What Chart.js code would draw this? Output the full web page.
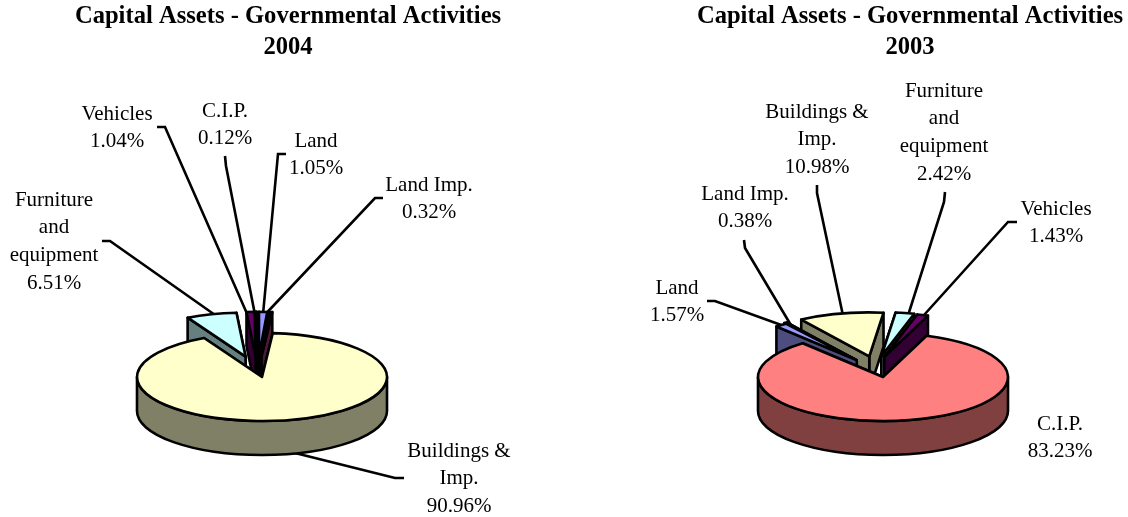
<!DOCTYPE html>
<html>
<head>
<meta charset="utf-8">
<title>Capital Assets - Governmental Activities</title>
<script src="https://cdn.jsdelivr.net/npm/chart.js@4"></script>
<style>
    html, body { margin: 0; padding: 0; background: #fff; overflow: hidden; }
    .pie { position: absolute; top: 0; width: 564px; height: 517px; }
</style>
</head>
<body>
<div class="pie" style="left: 0"><canvas id="pie2004"></canvas></div>
<div class="pie" style="left: 564px"><canvas id="pie2003"></canvas></div>
<script>
const categories = ['Land', 'Land Imp.', 'Buildings & Imp.', 'Furniture and equipment', 'Vehicles', 'C.I.P.'];
const values2004 = [1.05, 0.32, 90.96, 6.51, 1.04, 0.12];
const values2003 = [1.57, 0.38, 10.98, 2.42, 1.43, 83.23];
const labelLines = [['Land'], ['Land Imp.'], ['Buildings &', 'Imp.'], ['Furniture', 'and', 'equipment'], ['Vehicles'], ['C.I.P.']];
const topColors = ['#9999ff', '#993366', '#ffffcc', '#ccffff', '#660066', '#ff8080'];
const wallColors = ['#4d4d80', '#4d1a33', '#808066', '#668080', '#330033', '#804040'];

const SQUASH = 0.352;   // ellipse height / width
const DEPTH = 34;       // pie thickness
const LINE_H = 27.7;

// layout for each pie: label spots are [center x, first line y], leaders are polylines
const layout2004 = {
    rotation: 0,
    explode: [60, 60, 0, 60, 60, 60],
    nudgeX: [-5, -5, 0, 0, -4, -5],
    padLeft: 0, padRight: 40, titleShift: 26,
    spots: [[316, 141], [429, 185], [459, 451], [54, 200], [117, 114], [225, 111]],
    leaders: [
        [[286, 154], [278, 154], [262, 325]],
        [[383, 198], [375, 198], [258, 322]],
        [[404, 478], [395, 478], [287, 451]],
        [[102, 241], [110, 241], [225, 322]],
        [[157, 127], [165, 127], [252, 325]],
        [[225, 156], [226, 166], [257, 325]]
    ]
};
const layout2003 = {
    rotation: 320,
    explode: [60, 60, 60, 60, 60, 0],
    nudgeX: [10, 5, 0, -13, -17, 0],
    padLeft: 74, padRight: 0, titleShift: 27,
    spots: [[677, 288], [745, 194], [817, 112], [944, 91], [1056, 209], [1060, 424]],
    leaders: [
        [[707, 301], [715, 301], [795, 330]],
        [[744, 240], [745, 248], [795, 332]],
        [[817, 185], [817, 193], [845, 325]],
        [[945, 192], [944, 202], [905, 325]],
        [[1017, 222], [1008, 222], [915, 325]],
        null
    ]
};

// one exploded wedge: walls first, then the top face
function drawWedge(ctx, arc, i, look) {
    const r = arc.outerRadius;
    const a0 = arc.startAngle, a1 = arc.endAngle;
    const mid = (a0 + a1) / 2;
    const d = look.explode[i];
    const cx = arc.x + d * Math.cos(mid) + look.nudgeX[i];
    const cy = arc.y + d * Math.sin(mid) * SQUASH;
    const ry = r * SQUASH;

    ctx.strokeStyle = '#000';
    ctx.lineWidth = 2.6;
    ctx.lineJoin = 'round';
    ctx.fillStyle = wallColors[i];

    // cut faces, the one further back goes first
    const faces = [a0, a1].sort((p, q) => Math.sin(p) - Math.sin(q));
    faces.forEach(a => {
        const ex = cx + r * Math.cos(a), ey = cy + ry * Math.sin(a);
        ctx.beginPath();
        ctx.moveTo(cx, cy);
        ctx.lineTo(ex, ey);
        ctx.lineTo(ex, ey + DEPTH);
        ctx.lineTo(cx, cy + DEPTH);
        ctx.closePath();
        ctx.fill();
        ctx.stroke();
    });

    // outer wall, only the part facing the viewer (0..PI, also one turn on)
    [0, 2 * Math.PI].forEach(turn => {
        const from = Math.max(a0, turn), to = Math.min(a1, turn + Math.PI);
        if (from >= to) return;
        ctx.beginPath();
        ctx.ellipse(cx, cy, r, ry, 0, from, to);
        ctx.ellipse(cx, cy + DEPTH, r, ry, 0, to, from, true);
        ctx.closePath();
        ctx.fill();
        ctx.stroke();
    });

    ctx.fillStyle = topColors[i];
    ctx.beginPath();
    ctx.moveTo(cx, cy);
    ctx.ellipse(cx, cy, r, ry, 0, a0, a1);
    ctx.closePath();
    ctx.fill();
    ctx.stroke();
}

const pie3d = {
    id: 'pie3d',
    afterLayout(chart) {
        const look = chart.options.plugins.pie3d.look;
        chart.titleBlock.left += look.titleShift;
        chart.titleBlock.right += look.titleShift;
    },
    beforeDatasetDraw(chart, args) {
        const look = chart.options.plugins.pie3d.look;
        const ctx = chart.ctx;
        const arcs = args.meta.data;

        ctx.save();
        ctx.strokeStyle = '#000';
        ctx.lineWidth = 2.6;
        ctx.translate(-chart.canvas.parentNode.offsetLeft, 0);
        look.leaders.forEach(line => {
            if (!line) return;
            ctx.beginPath();
            line.forEach((p, n) => n ? ctx.lineTo(p[0], p[1]) : ctx.moveTo(p[0], p[1]));
            ctx.stroke();
        });
        ctx.restore();

        // far wedges first, whole-pie slice ends up on top
        const order = arcs.map((a, i) => i).sort((p, q) =>
            Math.sin((arcs[p].startAngle + arcs[p].endAngle) / 2) -
            Math.sin((arcs[q].startAngle + arcs[q].endAngle) / 2));
        ctx.save();
        order.forEach(i => drawWedge(ctx, arcs[i], i, look));
        ctx.restore();
        return false;
    },
    afterDatasetsDraw(chart) {
        const look = chart.options.plugins.pie3d.look;
        const ctx = chart.ctx;
        const values = chart.data.datasets[0].data;
        const left = chart.canvas.parentNode.offsetLeft;
        ctx.save();
        ctx.fillStyle = '#000';
        ctx.font = '21px "Liberation Serif"';
        ctx.textAlign = 'center';
        ctx.textBaseline = 'middle';
        values.forEach((v, i) => {
            const lines = labelLines[i].concat(v.toFixed(2) + '%');
            lines.forEach((t, n) => ctx.fillText(t, look.spots[i][0] - left, look.spots[i][1] + n * LINE_H));
        });
        ctx.restore();
    }
};

function makePie(id, values, year, look) {
    new Chart(document.getElementById(id), {
        type: 'pie',
        data: {
            labels: categories,
            datasets: [{ data: values, backgroundColor: topColors, borderWidth: 0 }]
        },
        options: {
            responsive: true,
            maintainAspectRatio: false,
            animation: false,
            rotation: look.rotation,
            layout: { padding: { left: look.padLeft, right: look.padRight, top: 0, bottom: 15 } },
            plugins: {
                legend: { display: false },
                tooltip: { enabled: false },
                title: {
                    display: true,
                    text: ['Capital Assets - Governmental Activities', year],
                    color: '#000',
                    font: { family: '"Liberation Serif"', size: 24.6, weight: 'bold', lineHeight: 1.26 },
                    padding: { top: 1, bottom: 189 }
                },
                pie3d: { look }
            }
        },
        plugins: [pie3d]
    });
}

makePie('pie2004', values2004, '2004', layout2004);
makePie('pie2003', values2003, '2003', layout2003);
</script>
</body>
</html>
